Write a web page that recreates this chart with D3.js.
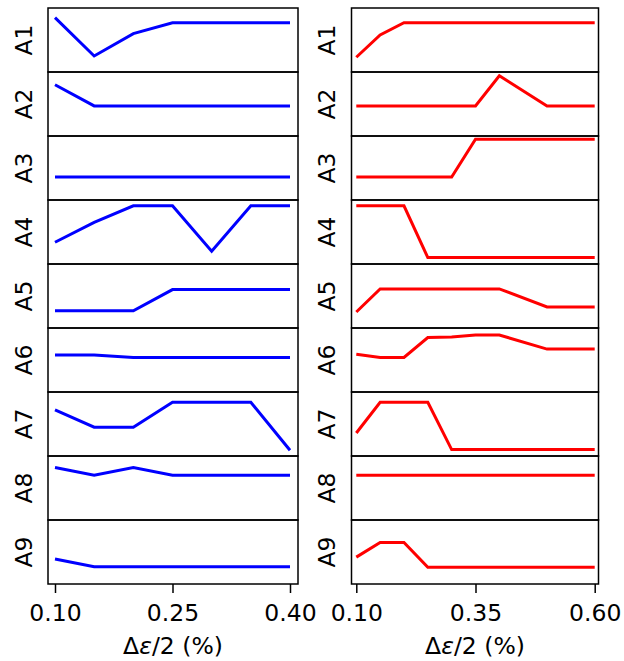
<!DOCTYPE html>
<html>
<head>
<meta charset="utf-8">
<script src="https://cdn.jsdelivr.net/npm/d3@7"></script>
<style>
  html, body { margin: 0; padding: 0; background: #fff; }
  svg { display: block; font-family: "DejaVu Sans", sans-serif; }
</style>
</head>
<body>
<svg id="chart" width="624" height="661"></svg>
<script>
// ---- data ----
const panelLabels = ["A1","A2","A3","A4","A5","A6","A7","A8","A9"];

const leftX = [0.10, 0.15, 0.20, 0.25, 0.30, 0.35, 0.40];
const leftTicks = [0.10, 0.25, 0.40];
const leftSeries = [
  [0.85, 0.25, 0.60, 0.77, 0.77, 0.77, 0.77],
  [0.80, 0.47, 0.47, 0.47, 0.47, 0.47, 0.47],
  [0.36, 0.36, 0.36, 0.36, 0.36, 0.36, 0.36],
  [0.34, 0.65, 0.91, 0.91, 0.20, 0.91, 0.91],
  [0.27, 0.27, 0.27, 0.60, 0.60, 0.60, 0.60],
  [0.58, 0.58, 0.54, 0.54, 0.54, 0.54, 0.54],
  [0.72, 0.45, 0.45, 0.84, 0.84, 0.84, 0.09],
  [0.82, 0.70, 0.82, 0.70, 0.70, 0.70, 0.70],
  [0.39, 0.27, 0.27, 0.27, 0.27, 0.27, 0.27]
];

const rightX = [0.10, 0.15, 0.20, 0.25, 0.30, 0.35, 0.40, 0.50, 0.60];
const rightTicks = [0.10, 0.35, 0.60];
const rightSeries = [
  [0.23, 0.58, 0.77, 0.77, 0.77, 0.77, 0.77, 0.77, 0.77],
  [0.47, 0.47, 0.47, 0.47, 0.47, 0.47, 0.94, 0.47, 0.47],
  [0.36, 0.36, 0.36, 0.36, 0.36, 0.95, 0.95, 0.95, 0.95],
  [0.91, 0.91, 0.91, 0.10, 0.10, 0.10, 0.10, 0.10, 0.10],
  [0.25, 0.61, 0.61, 0.61, 0.61, 0.61, 0.61, 0.33, 0.33],
  [0.59, 0.54, 0.54, 0.85, 0.86, 0.89, 0.89, 0.67, 0.67],
  [0.36, 0.84, 0.84, 0.84, 0.10, 0.10, 0.10, 0.10, 0.10],
  [0.70, 0.70, 0.70, 0.70, 0.70, 0.70, 0.70, 0.70, 0.70],
  [0.42, 0.65, 0.65, 0.26, 0.26, 0.26, 0.26, 0.26, 0.26]
];

// ---- layout ----
const svg = d3.select("#chart");
const plotTop = 8, panelH = 64, nPanels = 9;
const plotBottom = plotTop + panelH * nPanels;
const fontSize = 23.5;

const columns = [
  { x: leftX, series: leftSeries, ticks: leftTicks, color: "#0000ff",
    frame: [48, 298], dataRange: [55, 290], domain: [0.10, 0.40], labelX: 24 },
  { x: rightX, series: rightSeries, ticks: rightTicks, color: "#ff0000",
    frame: [351.5, 598.5], dataRange: [356.3, 594.7], domain: [0.10, 0.60], labelX: 327 }
];

columns.forEach(col => {
  const xs = d3.scaleLinear().domain(col.domain).range(col.dataRange);
  const g = svg.append("g");

  col.series.forEach((vals, i) => {
    const y0 = plotTop + i * panelH;
    const ys = d3.scaleLinear().domain([0, 1]).range([y0 + panelH, y0]);
    const line = d3.line().x((d, j) => xs(col.x[j])).y(d => ys(d));
    g.append("path")
      .datum(vals)
      .attr("d", line)
      .attr("fill", "none")
      .attr("stroke", col.color)
      .attr("stroke-width", 3)
      .attr("stroke-linejoin", "miter");

    g.append("text")
      .attr("transform", `translate(${col.labelX},${y0 + panelH / 2}) rotate(-90)`)
      .attr("text-anchor", "middle")
      .attr("dominant-baseline", "central")
      .attr("font-size", fontSize)
      .attr("fill", "#000")
      .text(panelLabels[i]);
  });

  for (let i = 0; i < nPanels; i++) {
    const y0 = plotTop + i * panelH;
    g.append("rect")
      .attr("x", col.frame[0]).attr("y", y0)
      .attr("width", col.frame[1] - col.frame[0]).attr("height", panelH)
      .attr("fill", "none").attr("stroke", "#000").attr("stroke-width", 1.5);
  }

  const axis = d3.axisBottom(xs).tickValues(col.ticks)
    .tickFormat(d3.format(".2f")).tickSize(9).tickPadding(11.5);
  const ax = g.append("g").attr("transform", `translate(0,${plotBottom})`).call(axis);
  ax.select(".domain").remove();
  ax.selectAll(".tick line").attr("stroke", "#000").attr("stroke-width", 1.5);
  ax.selectAll(".tick text")
    .attr("font-size", fontSize)
    .attr("font-family", "DejaVu Sans, sans-serif")
    .attr("fill", "#000");

  const cx = (col.frame[0] + col.frame[1]) / 2;
  const lab = g.append("text")
    .attr("x", cx).attr("y", 654)
    .attr("text-anchor", "middle")
    .attr("font-size", fontSize)
    .attr("fill", "#000");
  lab.append("tspan").text("Δ");
  lab.append("tspan").attr("font-style", "italic").text("ε");
  lab.append("tspan").text("/2 (%)");
});
</script>
</body>
</html>
